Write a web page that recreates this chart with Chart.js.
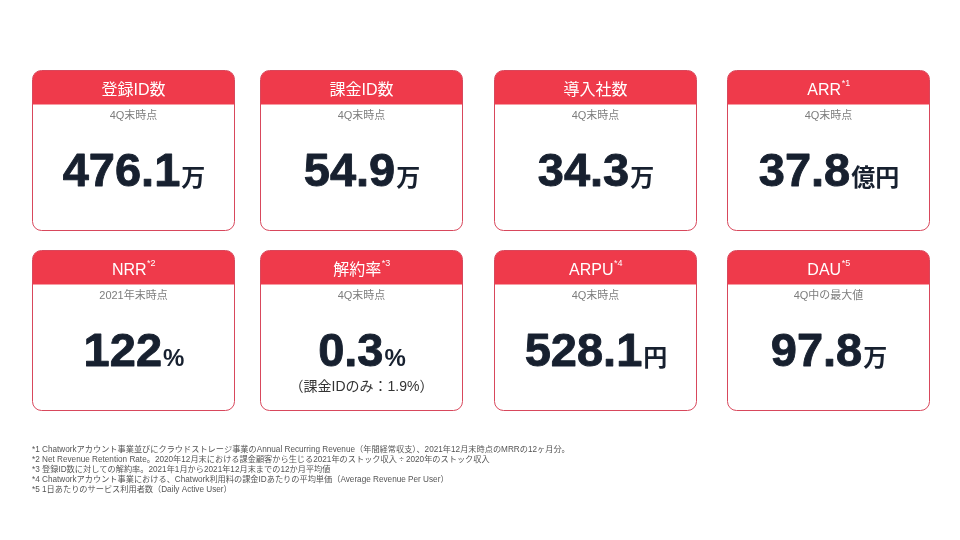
<!DOCTYPE html>
<html lang="ja">
<head>
<meta charset="utf-8">
<title>KPI</title>
<script src="https://cdn.jsdelivr.net/npm/chart.js@4.4.1/dist/chart.umd.min.js"></script>
<style>
  html, body { margin: 0; padding: 0; background: #ffffff; }
  #wrap { width: 960px; height: 540px; position: relative; }
</style>
</head>
<body>
<div id="wrap"><canvas id="kpiChart" width="960" height="540"></canvas></div>
<script>
const titles = ['登録ID数', '課金ID数', '導入社数', 'ARR', 'NRR', '解約率', 'ARPU', 'DAU'];
const marks = ['', '', '', '*1', '*2', '*3', '*4', '*5'];
const subtitles = ['4Q末時点', '4Q末時点', '4Q末時点', '4Q末時点', '2021年末時点', '4Q末時点', '4Q末時点', '4Q中の最大値'];
const values = [476.1, 54.9, 34.3, 37.8, 122, 0.3, 528.1, 97.8];
const decimals = [1, 1, 1, 1, 0, 1, 1, 1];
const units = ['万', '万', '万', '億円', '%', '%', '円', '万'];
const notes = ['', '', '', '', '', '（課金IDのみ：1.9%）', '', ''];
const footnotes = [
    '*1 Chatworkアカウント事業並びにクラウドストレージ事業のAnnual Recurring Revenue（年間経常収支）、2021年12月末時点のMRRの12ヶ月分。',
    '*2 Net Revenue Retention Rate。2020年12月末における課金顧客から生じる2021年のストック収入 ÷ 2020年のストック収入',
    '*3 登録ID数に対しての解約率。2021年1月から2021年12月末までの12か月平均値',
    '*4 Chatworkアカウント事業における、Chatwork利用料の課金IDあたりの平均単価（Average Revenue Per User）',
    '*5 1日あたりのサービス利用者数（Daily Active User）'
];

// Latin glyphs from Liberation Sans, Japanese falls back to Noto CJK
const FONT = "'Liberation Sans', 'Noto Sans CJK JP', sans-serif";

function roundPath(ctx, x, y, w, h, r) {
    ctx.beginPath();
    ctx.moveTo(x + r, y);
    ctx.lineTo(x + w - r, y);
    ctx.arcTo(x + w, y, x + w, y + r, r);
    ctx.lineTo(x + w, y + h - r);
    ctx.arcTo(x + w, y + h, x + w - r, y + h, r);
    ctx.lineTo(x + r, y + h);
    ctx.arcTo(x, y + h, x, y + h - r, r);
    ctx.lineTo(x, y + r);
    ctx.arcTo(x, y, x + r, y, r);
    ctx.closePath();
}

const cardsPlugin = {
    id: 'kpiCards',
    afterDraw(chart) {
        const ctx = chart.ctx;
        const labels = chart.data.labels;
        const data = chart.data.datasets[0].data;
        const cols = [32, 260, 494, 727];
        const rows = [70, 250];
        const w = 202, h = 160, head = 34;

        labels.forEach((label, i) => {
            const x = cols[i % 4] + 0.5;
            const y = rows[Math.floor(i / 4)] + 0.5;
            const cx = x + w / 2;

            ctx.save();
            roundPath(ctx, x, y, w, h, 9);
            ctx.fillStyle = '#ffffff';
            ctx.fill();
            ctx.save();
            ctx.clip();
            ctx.fillStyle = '#EF3A4B';
            ctx.fillRect(x, y, w, head);
            ctx.restore();
            roundPath(ctx, x, y, w, h, 9);
            ctx.strokeStyle = '#D8485C';
            ctx.lineWidth = 1;
            ctx.stroke();

            // header title with superscript mark
            ctx.textBaseline = 'alphabetic';
            ctx.font = '16px ' + FONT;
            const tw = ctx.measureText(label).width;
            ctx.font = '9px ' + FONT;
            const mw = marks[i] ? ctx.measureText(marks[i]).width : 0;
            const tx = cx - (tw + mw) / 2;
            ctx.fillStyle = '#ffffff';
            ctx.font = '16px ' + FONT;
            ctx.textAlign = 'left';
            ctx.fillText(label, tx, y + 24);
            if (marks[i]) {
                ctx.font = '9px ' + FONT;
                ctx.fillText(marks[i], tx + tw + 0.5, y + 15);
            }

            // subtitle
            ctx.font = '11px ' + FONT;
            ctx.fillStyle = '#7d7d7d';
            ctx.textAlign = 'center';
            ctx.fillText(subtitles[i], cx, y + 48);

            // value + unit (thin stroke to get the heavier weight of the original)
            const num = Number(data[i]).toFixed(decimals[i]);
            ctx.font = 'bold 47px ' + FONT;
            const nw = ctx.measureText(num).width;
            ctx.font = 'bold 24px ' + FONT;
            const uw = ctx.measureText(units[i]).width;
            const vx = cx - (nw + uw) / 2;
            ctx.textAlign = 'left';
            ctx.fillStyle = '#17202F';
            ctx.strokeStyle = '#17202F';
            ctx.lineJoin = 'round';
            ctx.lineWidth = 0.9;
            ctx.font = 'bold 47px ' + FONT;
            ctx.fillText(num, vx, y + 115);
            ctx.strokeText(num, vx, y + 115);
            ctx.font = 'bold 24px ' + FONT;
            ctx.fillText(units[i], vx + nw + 1, y + 115);

            if (notes[i]) {
                ctx.font = '14px ' + FONT;
                ctx.fillStyle = '#333333';
                ctx.textAlign = 'center';
                ctx.fillText(notes[i], cx, y + 140);
            }
            ctx.restore();
        });

        ctx.save();
        ctx.font = '8.2px ' + FONT;
        ctx.fillStyle = '#555555';
        ctx.textAlign = 'left';
        ctx.textBaseline = 'middle';
        footnotes.forEach((line, k) => {
            ctx.fillText(line, 32, 450 + k * 10);
        });
        ctx.restore();
    }
};

const chart = new Chart(document.getElementById('kpiChart').getContext('2d'), {
    type: 'bar',
    data: {
        labels: titles,
        datasets: [{
            label: 'KPI',
            data: values,
            backgroundColor: 'rgba(0,0,0,0)',
            borderWidth: 0
        }]
    },
    options: {
        responsive: false,
        animation: false,
        devicePixelRatio: 1,
        layout: { padding: 0 },
        scales: {
            x: { display: false },
            y: { display: false }
        },
        plugins: {
            legend: { display: false },
            tooltip: { enabled: false }
        }
    },
    plugins: [cardsPlugin]
});
</script>
</body>
</html>
